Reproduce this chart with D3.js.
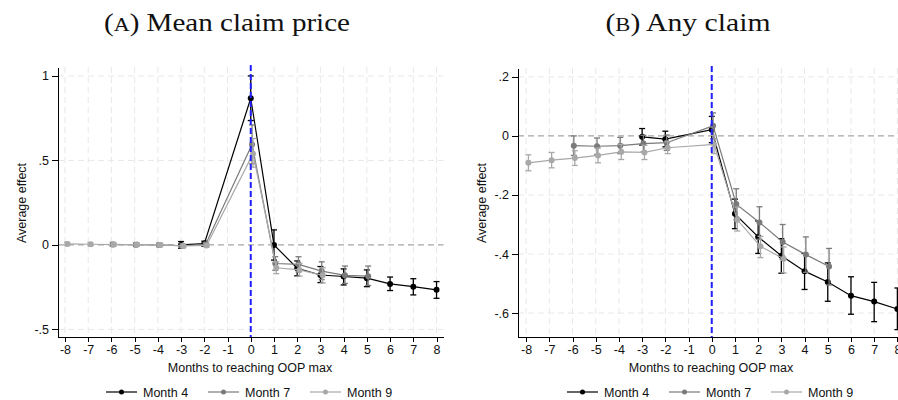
<!DOCTYPE html>
<html>
<head>
    <title>Event study - mean claim price and any claim</title>
    <meta charset="utf-8" />
    <script src="https://cdn.jsdelivr.net/npm/d3@7"></script>
    <style>
        body {
            padding: 0;
            margin: 0;
            background: #fff;
        }
        .title {
            font-family: "Liberation Serif", "DejaVu Serif", serif;
            font-size: 25px;
            fill: #111;
        }
        .axis text, .lab, .legend text {
            font-family: "Liberation Sans", Arial, sans-serif;
            fill: #111;
        }
        .axis text { font-size: 12.5px; }
        .lab { font-size: 12.5px; }
        .legend text { font-size: 12.5px; }
        .axis path, .axis line {
            stroke: #000;
            shape-rendering: crispEdges;
        }
    </style>
</head>
<body>
<svg id="chart" width="898" height="400"></svg>
<script>

// months relative to reaching the OOP max
var seriesNames = ["Month 4", "Month 7", "Month 9"];
var xTicks = [-8, -7, -6, -5, -4, -3, -2, -1, 0, 1, 2, 3, 4, 5, 6, 7, 8];

var xMonth4 = [-3, -2, 0, 1, 2, 3, 4, 5, 6, 7, 8];
var xMonth7 = [-6, -5, -4, -3, -2, 0, 1, 2, 3, 4, 5];
var xMonth9 = [-8, -7, -6, -5, -4, -3, -2, 0, 1, 2, 3];

// (A) mean claim price
var priceTicks = [1, 0.5, 0, -0.5];
var priceTickLabels = ["1", ".5", "0", "-.5"];
var priceM4    = [0.000, 0.008, 0.868, 0.000, -0.138, -0.178, -0.187, -0.197, -0.231, -0.247, -0.266];
var priceM4Lo  = [-0.020, -0.008, 0.736, -0.090, -0.183, -0.223, -0.237, -0.247, -0.270, -0.296, -0.316];
var priceM4Hi  = [0.020, 0.022, 1.000, 0.089, -0.095, -0.128, -0.142, -0.148, -0.190, -0.200, -0.217];
var priceM7    = [0.003, 0.001, 0.000, -0.005, 0.003, 0.595, -0.110, -0.115, -0.155, -0.180, -0.185];
var priceM7Lo  = [-0.009, -0.010, -0.011, -0.017, -0.009, 0.480, -0.150, -0.160, -0.205, -0.228, -0.240];
var priceM7Hi  = [0.015, 0.012, 0.011, 0.007, 0.015, 0.710, -0.070, -0.070, -0.100, -0.125, -0.125];
var priceM9    = [0.006, 0.004, 0.002, 0.002, 0.000, -0.006, -0.003, 0.540, -0.135, -0.148, -0.180];
var priceM9Lo  = [-0.004, -0.006, -0.008, -0.008, -0.010, -0.016, -0.013, 0.460, -0.170, -0.185, -0.225];
var priceM9Hi  = [0.016, 0.014, 0.012, 0.012, 0.010, 0.004, 0.007, 0.630, -0.100, -0.110, -0.135];

// (B) any claim
var anyTicks = [0.2, 0, -0.2, -0.4, -0.6];
var anyTickLabels = [".2", "0", "-.2", "-.4", "-.6"];
var anyM4    = [-0.003, -0.011, 0.021, -0.264, -0.342, -0.406, -0.458, -0.495, -0.541, -0.561, -0.586];
var anyM4Lo  = [-0.031, -0.037, -0.023, -0.314, -0.398, -0.465, -0.520, -0.560, -0.604, -0.629, -0.656];
var anyM4Hi  = [0.025, 0.016, 0.066, -0.214, -0.288, -0.348, -0.398, -0.430, -0.477, -0.496, -0.515];
var anyM7    = [-0.033, -0.035, -0.033, -0.026, -0.023, 0.034, -0.231, -0.293, -0.359, -0.402, -0.442];
var anyM7Lo  = [-0.066, -0.063, -0.060, -0.054, -0.049, -0.010, -0.284, -0.350, -0.418, -0.462, -0.505];
var anyM7Hi  = [0.000, -0.007, -0.005, 0.002, 0.003, 0.078, -0.179, -0.240, -0.300, -0.342, -0.381];
var anyM9    = [-0.091, -0.082, -0.075, -0.066, -0.054, -0.056, -0.040, -0.029, -0.284, -0.374, -0.416];
var anyM9Lo  = [-0.118, -0.108, -0.100, -0.091, -0.080, -0.080, -0.060, -0.060, -0.322, -0.412, -0.464];
var anyM9Hi  = [-0.064, -0.056, -0.050, -0.041, -0.029, -0.032, -0.020, 0.002, -0.241, -0.340, -0.376];

var colors = ["#000000", "#7a7a7a", "#a8a8a8"];
var xNudge = [0, 1.3, 2.3];   // small horizontal shift of each series, px

function makeSeries(xs, ys, lo, hi) {
  return xs.map(function(x, i) { return { x: x, y: ys[i], lo: lo[i], hi: hi[i] }; });
}

var svg = d3.select("#chart");
svg.append("rect").attr("width", 898).attr("height", 400).attr("fill", "#fff");

function drawPanel(p) {
  var g = svg.append("g");
  var x = d3.scaleLinear().domain(p.xDomain).range(p.xRange);
  var y = d3.scaleLinear().domain(p.yDomain).range([337, p.yTop]);
  var left = p.xRange[0], right = Math.min(p.xRange[1], 898);

  // grid
  g.selectAll(".vgrid").data(xTicks).enter().append("line")
      .attr("x1", x).attr("x2", x)
      .attr("y1", p.yTop).attr("y2", 337)
      .attr("stroke", "#e8e8e8").attr("stroke-dasharray", "6,4");
  g.selectAll(".hgrid").data(p.yTicks.filter(function(d) { return d !== 0; })).enter().append("line")
      .attr("x1", left).attr("x2", right)
      .attr("y1", y).attr("y2", y)
      .attr("stroke", "#e8e8e8").attr("stroke-dasharray", "6,4");

  // reference line at zero
  g.append("line")
      .attr("x1", left).attr("x2", right)
      .attr("y1", y(0)).attr("y2", y(0))
      .attr("stroke", "#a5a5a5").attr("stroke-width", 1.3).attr("stroke-dasharray", "6,4");

  // series
  p.series.forEach(function(s, k) {
    var sg = g.append("g");
    var px = function(d) { return x(d.x) + xNudge[k]; };
    sg.append("path")
        .datum(s)
        .attr("fill", "none")
        .attr("stroke", colors[k])
        .attr("stroke-width", 1.2)
        .attr("d", d3.line().x(px).y(function(d) { return y(d.y); }));
    var eb = sg.selectAll(".eb").data(s).enter().append("g");
    eb.append("line")
        .attr("x1", px).attr("x2", px)
        .attr("y1", function(d) { return y(d.lo); })
        .attr("y2", function(d) { return y(d.hi); })
        .attr("stroke", colors[k]).attr("stroke-width", 1.3);
    eb.append("line")
        .attr("x1", function(d) { return px(d) - 3; }).attr("x2", function(d) { return px(d) + 3; })
        .attr("y1", function(d) { return y(d.lo); }).attr("y2", function(d) { return y(d.lo); })
        .attr("stroke", colors[k]).attr("stroke-width", 1.3);
    eb.append("line")
        .attr("x1", function(d) { return px(d) - 3; }).attr("x2", function(d) { return px(d) + 3; })
        .attr("y1", function(d) { return y(d.hi); }).attr("y2", function(d) { return y(d.hi); })
        .attr("stroke", colors[k]).attr("stroke-width", 1.3);
    sg.selectAll("circle").data(s).enter().append("circle")
        .attr("cx", px)
        .attr("cy", function(d) { return y(d.y); })
        .attr("r", 3)
        .attr("fill", colors[k]);
  });

  // blue line at month 0
  g.append("line")
      .attr("x1", x(0)).attr("x2", x(0))
      .attr("y1", p.yTop - 2).attr("y2", 337)
      .attr("stroke", "#1f1fff").attr("stroke-width", 2).attr("stroke-dasharray", "6,3");

  // axes
  g.append("g")
      .attr("class", "axis")
      .attr("transform", "translate(0,337)")
      .call(d3.axisBottom(x).tickValues(xTicks).tickSize(5).tickSizeOuter(0)
          .tickFormat(function(d) { return String(d); }));
  g.append("g")
      .attr("class", "axis")
      .attr("transform", "translate(" + left + ",0)")
      .call(d3.axisLeft(y).tickValues(p.yTicks).tickSize(6).tickSizeOuter(0)
          .tickFormat(function(d, i) { return p.yTickLabels[i]; }));

  // labels
  g.append("text")
      .attr("class", "lab")
      .attr("x", p.xLabelX).attr("y", 372)
      .attr("text-anchor", "middle")
      .text("Months to reaching OOP max");
  g.append("text")
      .attr("class", "lab")
      .attr("transform", "translate(" + (left - 32) + ",203) rotate(-90)")
      .attr("text-anchor", "middle")
      .text("Average effect");

  // title
  var t = g.append("text")
      .attr("class", "title")
      .attr("x", p.titleX).attr("y", 31)
      .attr("text-anchor", "middle")
      .attr("textLength", p.titleWidth)
      .attr("lengthAdjust", "spacingAndGlyphs");
  t.append("tspan").text("(");
  t.append("tspan").attr("font-size", "19px").text(p.titleLetter);
  t.append("tspan").text(") " + p.title);

  // legend
  var lg = g.append("g").attr("class", "legend");
  seriesNames.forEach(function(name, k) {
    var lx = p.legendX + k * 102;
    lg.append("line")
        .attr("x1", lx).attr("x2", lx + 31)
        .attr("y1", 392).attr("y2", 392)
        .attr("stroke", colors[k]).attr("stroke-width", 1.2);
    lg.append("circle")
        .attr("cx", lx + 15.5).attr("cy", 392).attr("r", 2.5)
        .attr("fill", colors[k]);
    lg.append("text")
        .attr("x", lx + 37).attr("y", 396.5)
        .text(name);
  });
}

drawPanel({
  xDomain: [-8.3, 8.3], xRange: [58, 443.5],
  yDomain: [-0.545, 1.053], yTop: 67,
  yTicks: priceTicks, yTickLabels: priceTickLabels,
  series: [makeSeries(xMonth4, priceM4, priceM4Lo, priceM4Hi),
           makeSeries(xMonth7, priceM7, priceM7Lo, priceM7Hi),
           makeSeries(xMonth9, priceM9, priceM9Lo, priceM9Hi)],
  xLabelX: 250, titleX: 227, titleWidth: 246, titleLetter: "A", title: "Mean claim price",
  legendX: 106
});

drawPanel({
  xDomain: [-8.35, 8.35], xRange: [518, 905.5],
  yDomain: [-0.681, 0.230], yTop: 68,
  yTicks: anyTicks, yTickLabels: anyTickLabels,
  series: [makeSeries(xMonth4, anyM4, anyM4Lo, anyM4Hi),
           makeSeries(xMonth7, anyM7, anyM7Lo, anyM7Hi),
           makeSeries(xMonth9, anyM9, anyM9Lo, anyM9Hi)],
  xLabelX: 711, titleX: 688, titleWidth: 165, titleLetter: "B", title: "Any claim",
  legendX: 567
});

</script>
</body>
</html>
